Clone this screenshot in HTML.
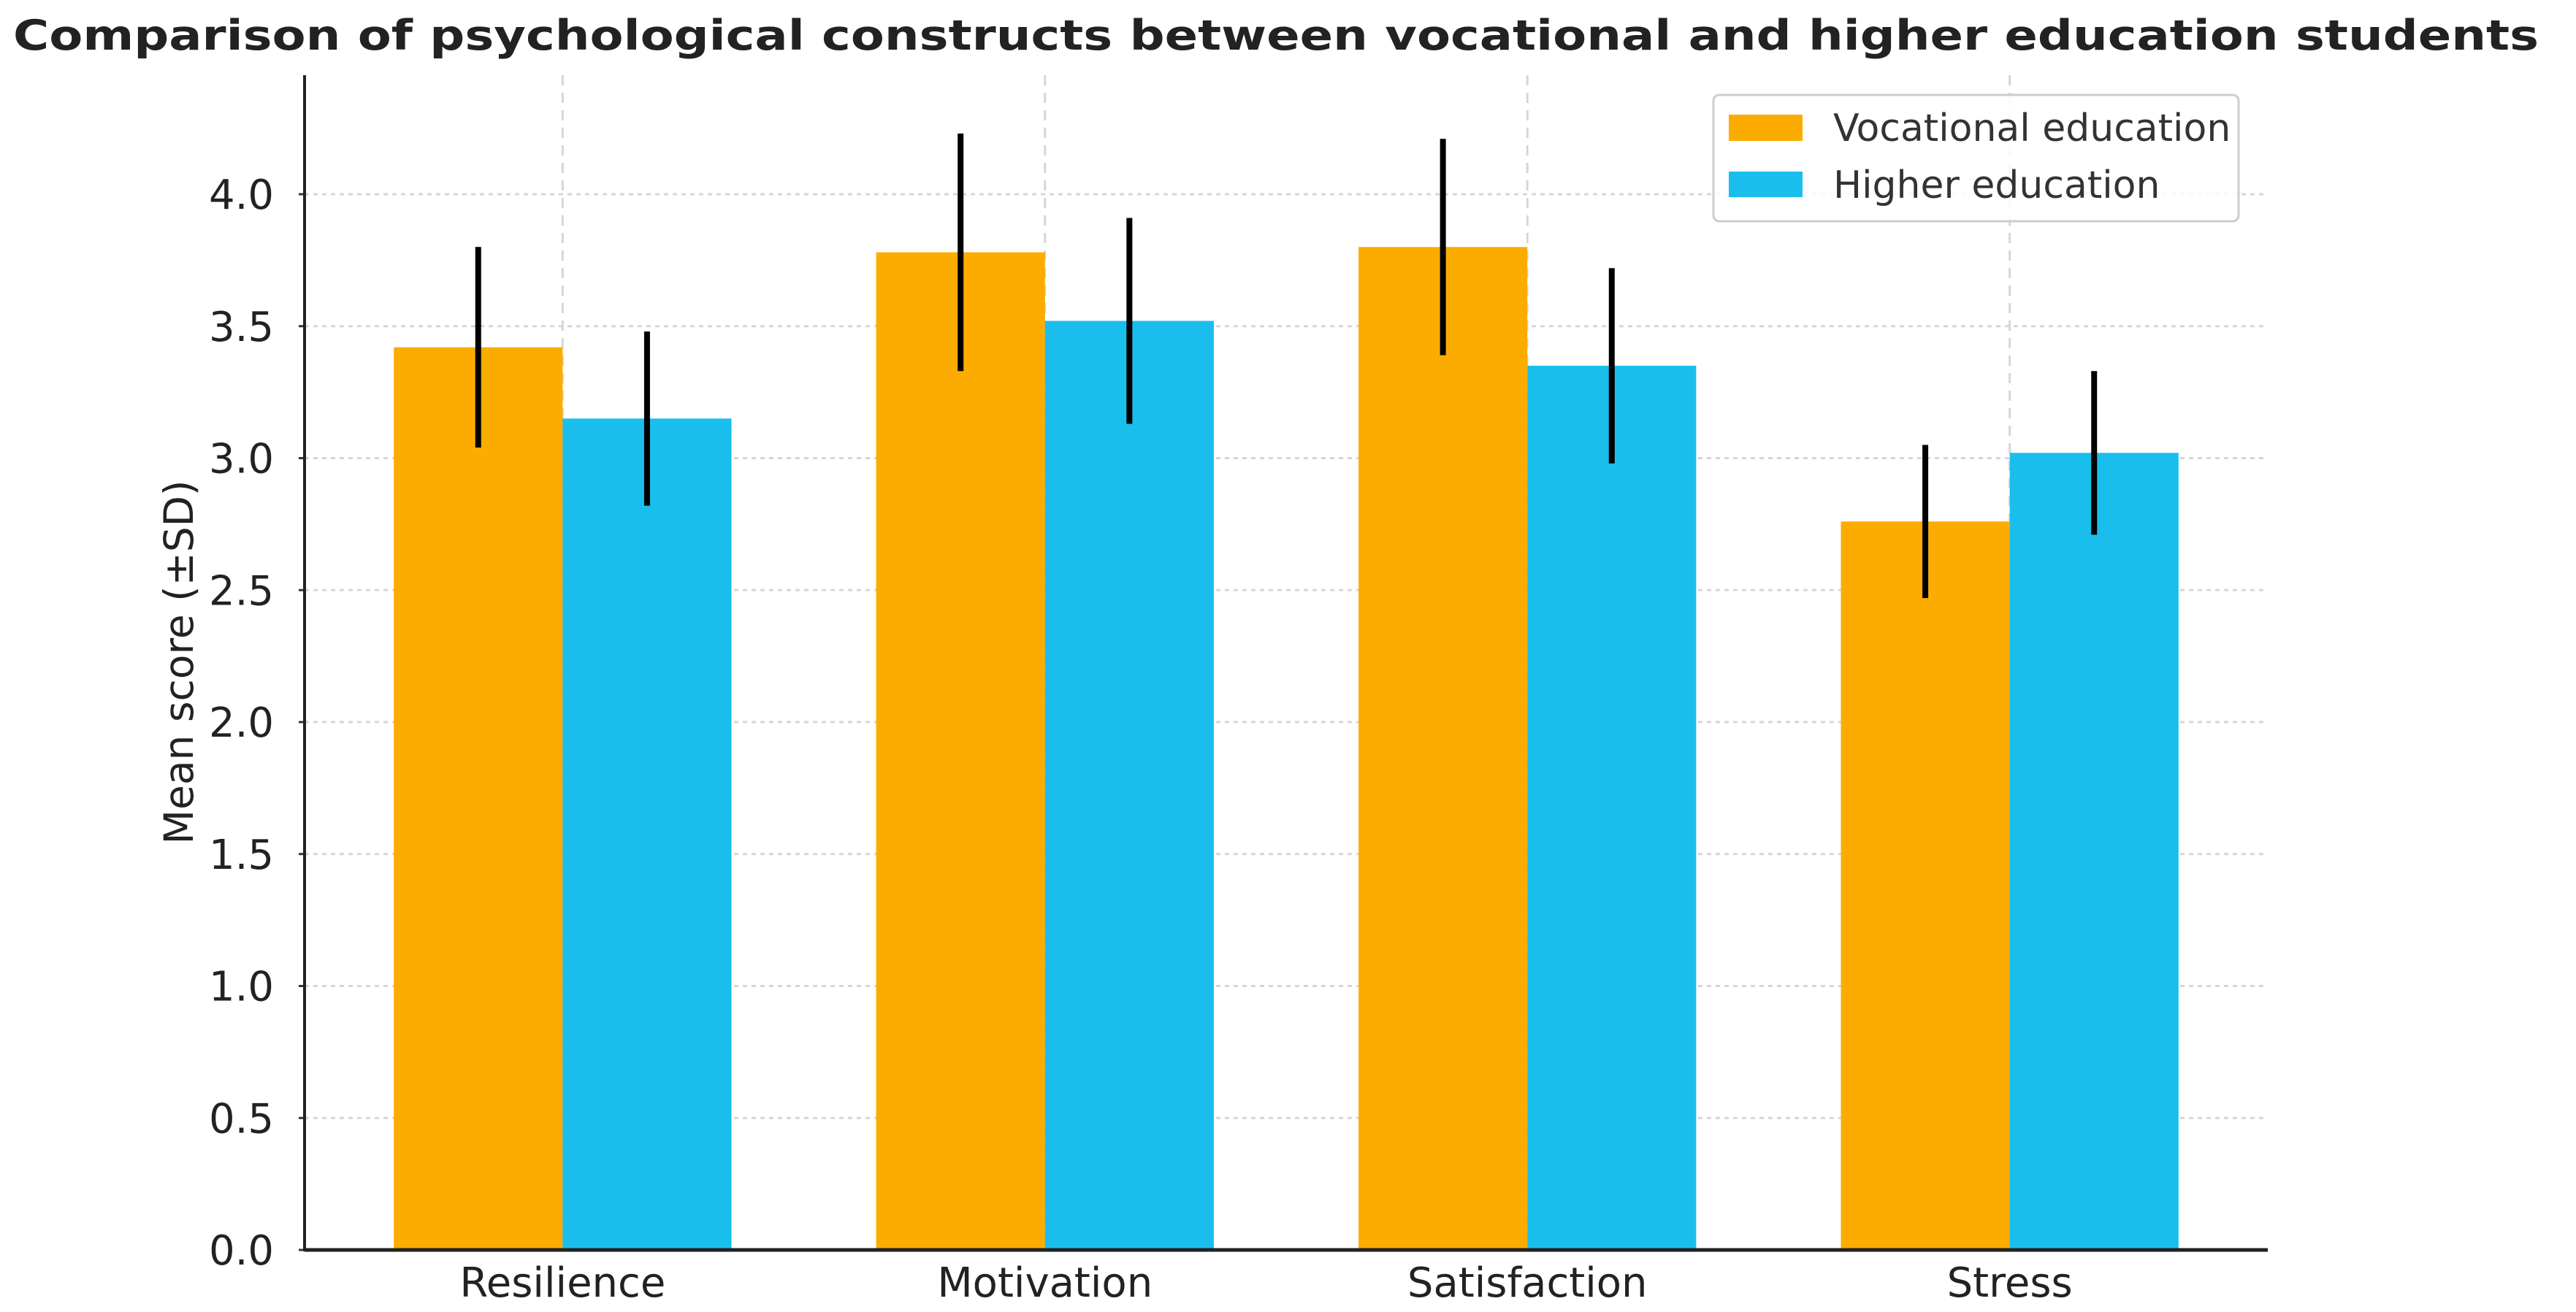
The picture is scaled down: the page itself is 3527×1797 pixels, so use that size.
<!DOCTYPE html>
<html><head><meta charset="utf-8"><style>
html,body{margin:0;padding:0;background:#fff;}
svg{display:block;font-family:"DejaVu Sans","Liberation Sans",sans-serif;}
</style></head><body>
<svg id="chart" width="3527" height="1797" viewBox="0 0 3527 1797" xmlns="http://www.w3.org/2000/svg">
<text x="18" y="68" font-size="57" font-weight="bold" fill="#222" textLength="3458" lengthAdjust="spacingAndGlyphs">Comparison of psychological constructs between vocational and higher education students</text>
<g id="grid"></g><g id="bars"></g><g id="errs"></g><g id="axes"></g>
<text transform="translate(264,907) rotate(-90)" text-anchor="middle" font-size="55" fill="#222">Mean score (±SD)</text>
<g>
<rect x="2346" y="130" width="719" height="173" rx="8" fill="#fff" fill-opacity="0.85" stroke="#ccc" stroke-width="3"/>
<rect x="2367" y="157" width="101" height="36" fill="#FCAC00"/>
<text x="2510" y="193" font-size="52" fill="#333">Vocational education</text>
<rect x="2367" y="235" width="101" height="35" fill="#1ABEEC"/>
<text x="2510" y="271" font-size="52" fill="#333">Higher education</text>
</g>
</svg>
<script>
const categories = ["Resilience","Motivation","Satisfaction","Stress"];
const vocMeans = [3.42,3.78,3.80,2.76];
const vocSD = [0.38,0.45,0.41,0.29];
const highMeans = [3.15,3.52,3.35,3.02];
const highSD = [0.33,0.39,0.37,0.31];
const yTicks = [0,0.5,1,1.5,2,2.5,3,3.5,4];
const yTickLabels = ["0.0","0.5","1.0","1.5","2.0","2.5","3.0","3.5","4.0"];

const NS="http://www.w3.org/2000/svg";
const x0=417, x1=3105, yBase=1712, yTop=103;
const xmin=-0.535, xmax=3.535;
const X=v=>x0+(v-xmin)/(xmax-xmin)*(x1-x0);
const Y=v=>yBase-v*361.5;
const bw=0.35;
function mk(tag,attrs,parent){const e=document.createElementNS(NS,tag);for(const k in attrs)e.setAttribute(k,attrs[k]);parent.appendChild(e);return e;}
const grid=document.getElementById('grid'),bars=document.getElementById('bars'),errs=document.getElementById('errs'),axes=document.getElementById('axes');
yTicks.forEach((t,i)=>{
  const g=mk('line',{x1:x0,x2:x1,y1:Y(t),y2:Y(t),stroke:'#d6d6d6','stroke-width':3,'stroke-dasharray':'6,6'},grid);
  
  
  const tk=mk('line',{x1:x0-8,x2:x0,y1:Y(t),y2:Y(t),stroke:'#333','stroke-width':3},axes);
  
  
  const lb=mk('text',{x:x0-42,y:Y(t)+20,'text-anchor':'end','font-size':56,fill:'#222'},axes);
  lb.textContent=yTickLabels[i];
  
  
});
categories.forEach((c,i)=>{
  const g=mk('line',{x1:X(i),x2:X(i),y1:yTop,y2:yBase,stroke:'#d6d6d6','stroke-width':3,'stroke-dasharray':'14,10'},grid);
  
  
  const b1=mk('rect',{x:X(i-bw),y:Y(vocMeans[i]),width:X(i)-X(i-bw),height:Y(0)-Y(vocMeans[i]),fill:'#FCAC00'},bars);
  
  
  const b2=mk('rect',{x:X(i),y:Y(highMeans[i]),width:X(i+bw)-X(i),height:Y(0)-Y(highMeans[i]),fill:'#1ABEEC'},bars);
  
  
  const e1=mk('line',{x1:X(i-bw/2),x2:X(i-bw/2),y1:Y(vocMeans[i]+vocSD[i]),y2:Y(vocMeans[i]-vocSD[i]),stroke:'#000','stroke-width':8},errs);
  
  
  const e2=mk('line',{x1:X(i+bw/2),x2:X(i+bw/2),y1:Y(highMeans[i]+highSD[i]),y2:Y(highMeans[i]-highSD[i]),stroke:'#000','stroke-width':8},errs);
  
  
  const lb=mk('text',{x:X(i),y:1776,'text-anchor':'middle','font-size':56,fill:'#222'},axes);
  lb.textContent=c;
  
  
});
const ya=mk('line',{x1:x0,x2:x0,y1:yTop,y2:yBase+2,stroke:'#222','stroke-width':4},axes);


const xa=mk('line',{x1:x0,x2:x1,y1:yBase,y2:yBase,stroke:'#222','stroke-width':5},axes);


</script>
</body></html>
